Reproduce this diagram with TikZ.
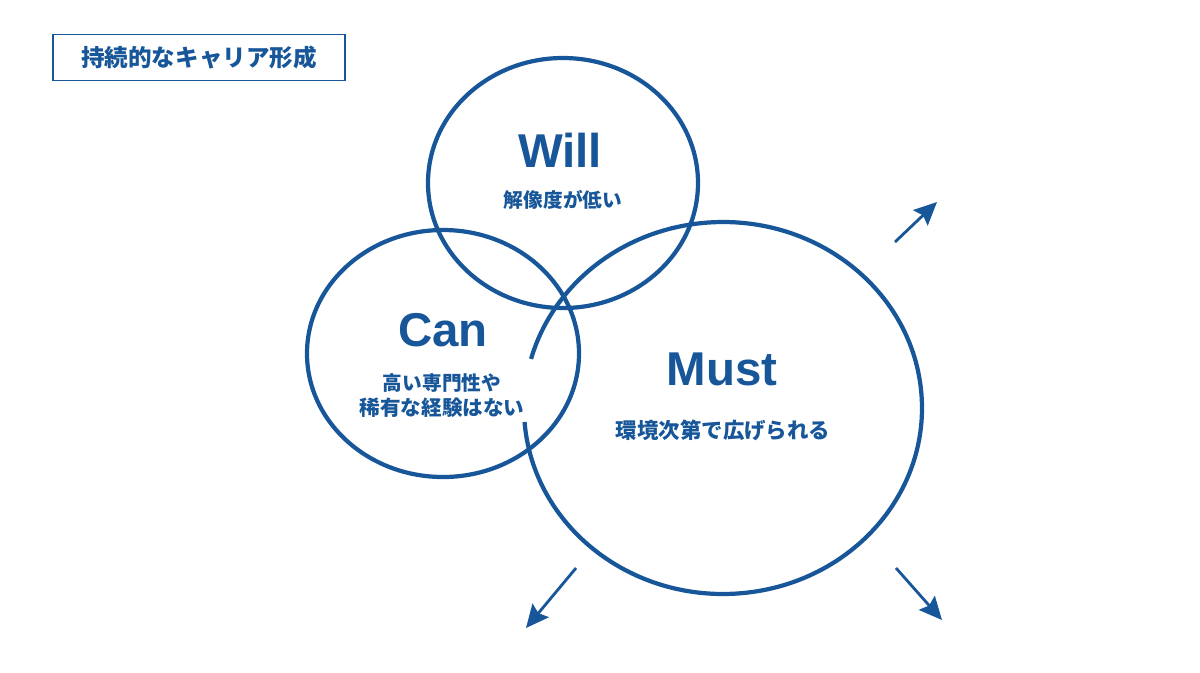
\documentclass[tikz,border=0pt]{standalone}
\usepackage{fontspec}
\setmainfont{Noto Sans CJK JP}
\newfontfamily\headfont{Liberation Sans}
\usetikzlibrary{arrows.meta}
\definecolor{navy}{RGB}{23,86,152}

\begin{document}
\begin{tikzpicture}[
    ring/.style={draw=navy,line width=1.2pt},
    spread/.style={draw=navy,line width=0.8pt,-{Stealth[length=6.5pt,width=6pt,inset=1pt]}},
    head/.style={text=navy,font=\fontsize{13.5}{14}\headfont\bfseries\selectfont},
    note/.style={text=navy,font=\fontsize{5.6}{7.2}\bfseries\selectfont,align=center}]
    \useasboundingbox (0,0) rectangle (12,-6.72);
    \node[draw=navy,line width=0.35pt,minimum width=2.92cm,minimum height=0.45cm,
      text=navy,font=\fontsize{6.7}{7}\bfseries\selectfont] (title) at (1.99,-0.575) {持続的なキャリア形成};
    \draw[ring] (5.63,-1.83) ellipse (1.35 and 1.25);
    \draw[ring] (4.43,-3.535) ellipse (1.36 and 1.235);
    \draw[ring] (7.23,-4.08) ++(184.3:1.99 and 1.86)
      arc[start angle=184.3,end angle=524.7,x radius=1.99,y radius=1.86];
    \node[head] (will) at (5.60,-1.505) {Will};
    \node[note] (willnote) at (5.63,-2.00) {解像度が低い};
    \node[head] (can) at (4.43,-3.305) {Can};
    \node[note] (cannote) at (4.42,-3.955) {高い専門性や\\{\fontsize{5.85}{7}\selectfont 稀有な経験はない}};
    \node[head] (must) at (7.22,-3.695) {Must};
    \node[note,font=\fontsize{6.1}{7}\bfseries\selectfont] (mustnote) at (7.23,-4.30) {環境次第で広げられる};
    \coordinate (ne0) at (8.95,-2.42);
    \coordinate (ne1) at (9.37,-2.02);
    \coordinate (sw0) at (5.76,-5.68);
    \coordinate (sw1) at (5.26,-6.28);
    \coordinate (se0) at (8.96,-5.68);
    \coordinate (se1) at (9.42,-6.20);
    \draw[spread] (ne0) to (ne1);
    \draw[spread] (sw0) to (sw1);
    \draw[spread] (se0) to (se1);
  \end{tikzpicture}
\end{document}
